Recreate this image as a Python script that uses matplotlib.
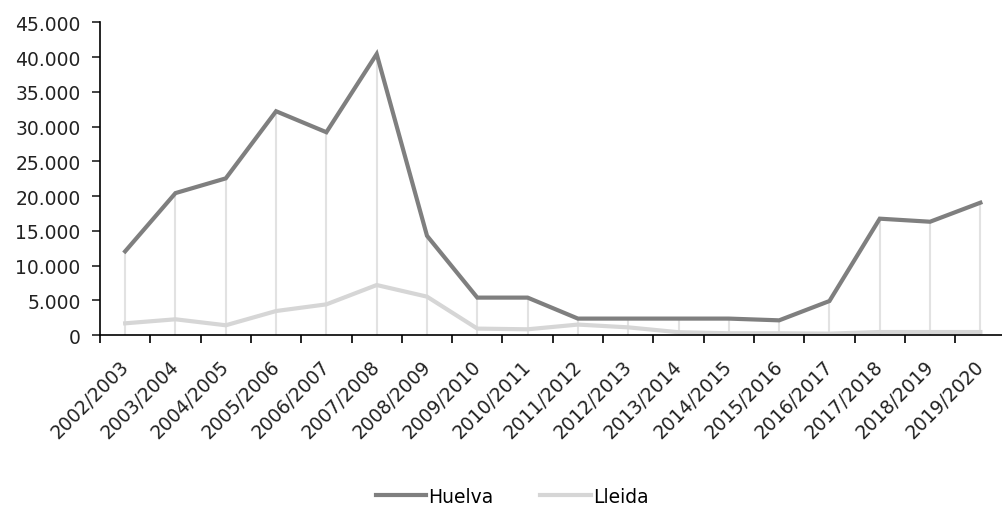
import numpy as np
import matplotlib.pyplot as plt
from matplotlib.ticker import FuncFormatter, FixedLocator
from matplotlib.transforms import ScaledTranslation

plt.rcParams['font.family'] = ['DejaVu Sans']

seasons = ["2002/2003", "2003/2004", "2004/2005", "2005/2006", "2006/2007",
           "2007/2008", "2008/2009", "2009/2010", "2010/2011", "2011/2012",
           "2012/2013", "2013/2014", "2014/2015", "2015/2016", "2016/2017",
           "2017/2018", "2018/2019", "2019/2020"]
huelva = [12040, 20420, 22540, 32200, 29180, 40430, 14280, 5380, 5380, 2360,
          2360, 2360, 2360, 2110, 4890, 16740, 16300, 19040]
lleida = [1680, 2260, 1400, 3450, 4410, 7190, 5520, 920, 820, 1500,
          1100, 400, 250, 250, 200, 430, 430, 430]

x = np.arange(len(seasons))

fig = plt.figure(figsize=(10.02, 5.06), dpi=100)
ax = fig.add_axes([100 / 1002, 170 / 506, 1 - 100 / 1002, (336 - 23.3) / 506])

# drop lines from the Huelva points
ax.vlines(x, 0, huelva, color="#e2e2e2", lw=1.5, zorder=1)
ax.plot(x, huelva, color="#7f7f7f", lw=3, label="Huelva", zorder=3,
        solid_joinstyle="miter")
ax.plot(x, lleida, color="#d6d6d6", lw=3, label="Lleida", zorder=2,
        solid_joinstyle="miter")

ax.set_xlim(-0.5, 17.43)
ax.set_ylim(0, 45000)
ax.set_yticks(np.arange(0, 45001, 5000))
ax.yaxis.set_major_formatter(FuncFormatter(lambda v, p: "{:,.0f}".format(v).replace(",", ".")))

ax.set_xticks(x)
ax.set_xticklabels(seasons, rotation=45, ha="right", rotation_mode="anchor")
ax.xaxis.set_minor_locator(FixedLocator(np.arange(-0.5, 17.6, 1)))
ax.tick_params(axis="x", which="major", length=0, pad=15, labelsize=13.5, colors="#222222")
ax.tick_params(axis="x", which="minor", length=6, width=1.2, direction="out")
ax.tick_params(axis="y", length=6, width=1.2, direction="out", labelsize=13.5,
               colors="#222222", pad=8)
shift = ScaledTranslation(-6 / 100, 0, fig.dpi_scale_trans)
for lbl in ax.get_xticklabels():
    lbl.set_color("#222222")
    lbl.set_transform(lbl.get_transform() + shift)

for s in ["top", "right"]:
    ax.spines[s].set_visible(False)
ax.spines["left"].set_linewidth(1.2)
ax.spines["bottom"].set_linewidth(1.2)

fig.legend(loc="lower center", bbox_to_anchor=(0.511, -0.035), ncol=2, frameon=False,
           fontsize=13.5, handlelength=2.7, handletextpad=0.1, columnspacing=2.5)

fig.savefig("out.png", dpi=100)
